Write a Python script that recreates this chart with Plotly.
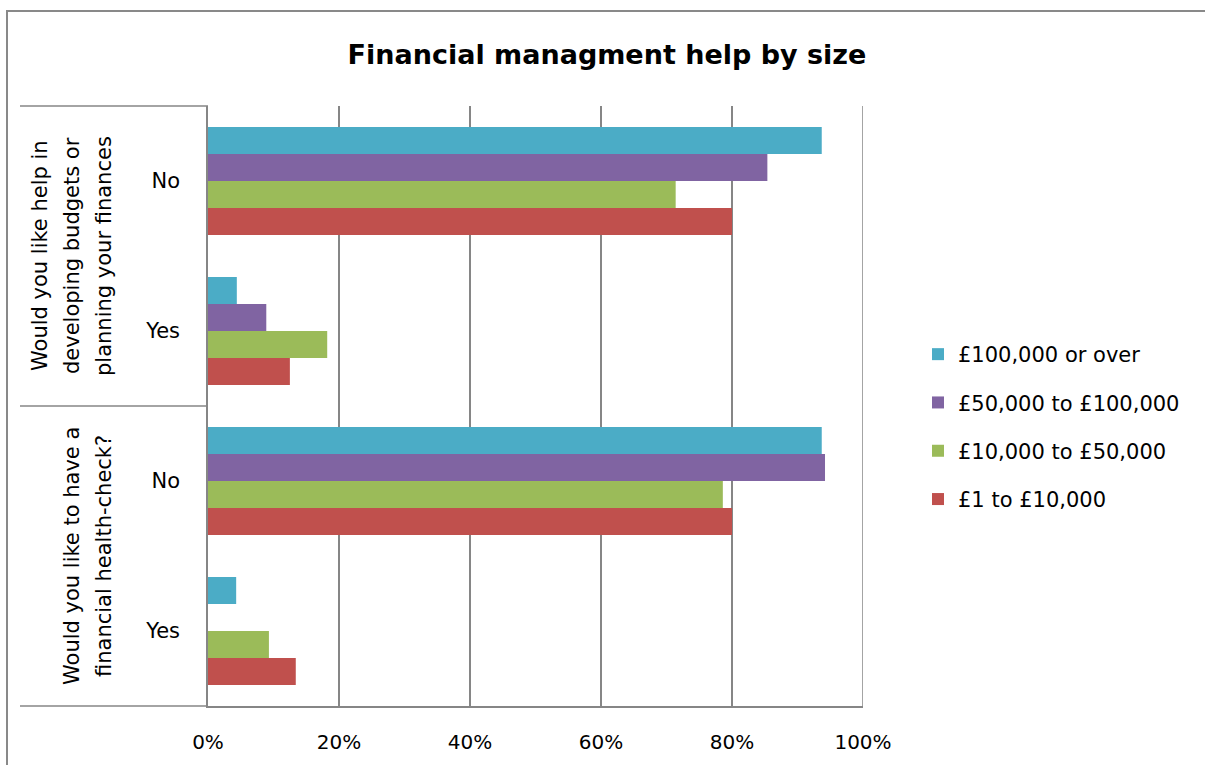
import plotly.graph_objects as go

# Survey rows (top to bottom): question group + answer
questions = [
    ["Would you like help in", "developing budgets or", "planning your finances"],
    ["Would you like to have a", "financial health-check?"],
]
answers = ["No", "Yes"]
row_keys = ["q1_no", "q1_yes", "q2_no", "q2_yes"]
row_labels = ["No", "Yes", "No", "Yes"]

series_names = ["£100,000 or over", "£50,000 to £100,000", "£10,000 to £50,000", "£1 to £10,000"]
colors = ["#4BACC6", "#8064A2", "#9BBB59", "#C0504D"]

# Share of respondents per row, one list per income band
over_100k = [0.937, 0.044, 0.937, 0.043]
band_50k_100k = [0.854, 0.089, 0.942, 0.0]
band_10k_50k = [0.714, 0.182, 0.786, 0.093]
band_1_10k = [0.80, 0.125, 0.80, 0.134]
series_values = [over_100k, band_50k_100k, band_10k_50k, band_1_10k]

FONT = "DejaVu Sans"
GRID = "#868686"

# plot-area geometry in pixels, used to place decorations in paper units
W, H = 1205, 765
L, R, T, B = 208, 863, 106, 706


def px_x(px):
    return (px - L) / (R - L)


def px_y(py):
    return (B - py) / (B - T)


fig = go.Figure()
for i, (name, vals, col) in enumerate(zip(series_names, series_values, colors)):
    fig.add_trace(go.Bar(
        name=name, x=vals, y=row_keys, orientation="h",
        marker=dict(color=col, line=dict(width=0)),
        legendgroup=f"band{i}",
        hoverinfo="x+name",
    ))

shapes = []
# outer chart border
shapes.append(dict(type="rect", xref="paper", yref="paper",
                   x0=px_x(7), x1=px_x(1215), y0=px_y(780), y1=px_y(11),
                   line=dict(color="#898989", width=2), layer="below"))
# category-block separators to the left of the plot
for py in (T, (T + B) / 2, B):
    shapes.append(dict(type="line", xref="paper", yref="paper",
                       x0=px_x(20), x1=0, y0=px_y(py), y1=px_y(py),
                       line=dict(color=GRID, width=1.5)))
# right-hand 100% gridline
shapes.append(dict(type="line", xref="x", yref="paper", x0=1, x1=1, y0=0, y1=1,
                   line=dict(color=GRID, width=1.5)))

annotations = []
group_centres = [(T + (T + B) / 2) / 2, ((T + B) / 2 + B) / 2]
line_x = [40, 72, 104]
for lines, cy in zip(questions, group_centres):
    xs = line_x[-len(lines):]
    for text, lx in zip(lines, xs):
        annotations.append(dict(
            text=text, xref="paper", yref="paper", x=px_x(lx), y=px_y(cy),
            xanchor="center", yanchor="middle", textangle=-90, showarrow=False,
            font=dict(family=FONT, size=21, color="#000000"),
        ))

fig.update_layout(
    width=W, height=H,
    margin=dict(l=L, r=W - R, t=T, b=H - B, pad=0, autoexpand=False),
    paper_bgcolor="white", plot_bgcolor="white",
    barmode="group", bargap=0.28, bargroupgap=0,
    font=dict(family=FONT, size=20, color="#000000"),
    title=dict(text="<b>Financial managment help by size</b>",
               xref="container", yref="container",
               x=607 / W, y=1 - 55 / H, xanchor="center", yanchor="middle",
               font=dict(family=FONT, size=27, color="#000000")),
    xaxis=dict(range=[0, 1], dtick=0.2, tick0=0, tickformat=".0%",
               showgrid=True, gridcolor=GRID, gridwidth=1.5,
               showline=True, linecolor=GRID, linewidth=1.5,
               zeroline=False, ticks="", ticklabelstandoff=17,
               automargin=False, tickfont=dict(family=FONT, size=20)),
    yaxis=dict(type="category", categoryorder="array", categoryarray=row_keys,
               autorange="reversed", tickvals=row_keys, ticktext=row_labels,
               showgrid=False, showline=True, linecolor=GRID, linewidth=1.5,
               zeroline=False, ticks="", ticklabelstandoff=22,
               automargin=False, tickfont=dict(family=FONT, size=21)),
    legend=dict(x=px_x(918), y=px_y(334), xanchor="left", yanchor="top",
                traceorder="grouped", tracegroupgap=18,
                font=dict(family=FONT, size=21), bgcolor="rgba(0,0,0,0)"),
    shapes=shapes, annotations=annotations,
)

fig.write_html("out.html")
